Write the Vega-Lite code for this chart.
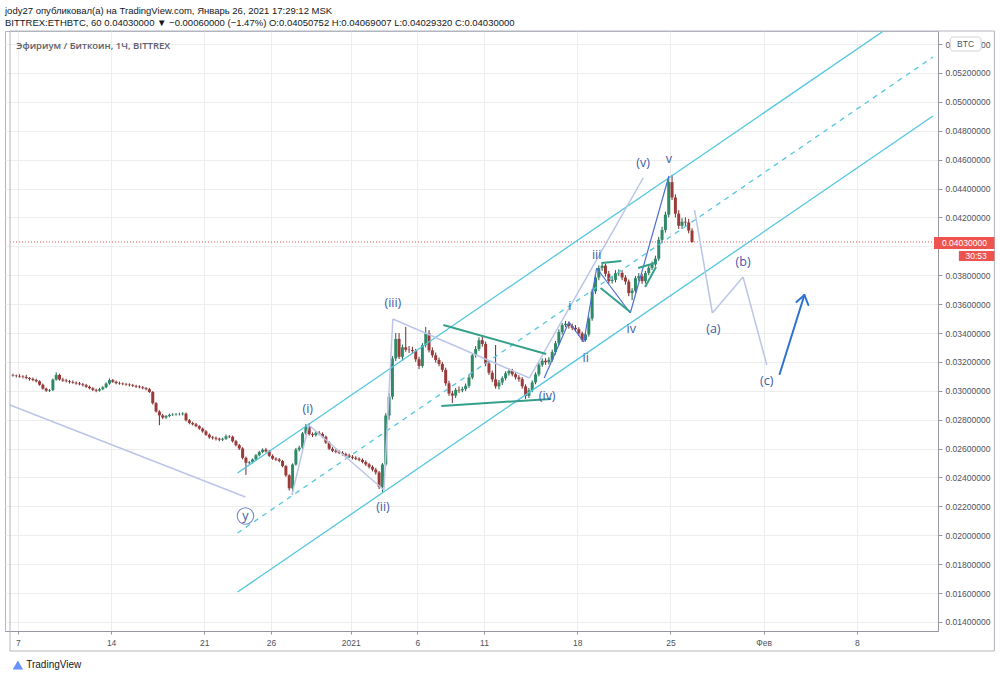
{
"$schema":"https://vega.github.io/schema/vega-lite/v6.json",
"width":933,"height":600,
"autosize":{"type":"none"},
"padding":{"left":5,"top":31,"right":62,"bottom":48},
"background":"white",
"title":{"text":"jody27 опубликовал(а) на TradingView.com, Январь 26, 2021 17:29:12 MSK","subtitle":"BITTREX:ETHBTC, 60  0.04030000 ▼ −0.00060000 (−1.47%)  O:0.04050752  H:0.04069007  L:0.04029320  C:0.04030000","anchor":"start","frame":"group","font":"Liberation Sans","fontSize":9.5,"fontWeight":"normal","color":"#131722","subtitleFont":"Liberation Sans","subtitleFontSize":9.5,"subtitleColor":"#131722","offset":3,"subtitlePadding":3},
"config":{"view":{"stroke":"#b2b5be","strokeWidth":1},
 "axis":{"labelOverlap":false,"labelFlush":false,"grid":true,"gridColor":"#ededed","domainColor":"#9598a1","tickColor":"#9598a1","labelFont":"Liberation Sans","labelFontSize":8.5,"labelColor":"#4c525e","title":null},
 "axisX":{"tickSize":3,"labelPadding":4},
 "axisY":{"tickSize":4,"labelPadding":3}},
"datasets":{
"c":[
{"t":"2020-12-06T15:00","o":0.03108,"h":0.03118,"l":0.03098,"c":0.03105},
{"t":"2020-12-06T21:00","o":0.03105,"h":0.03112,"l":0.03092,"c":0.03102},
{"t":"2020-12-07T03:00","o":0.03102,"h":0.03115,"l":0.0309,"c":0.03099},
{"t":"2020-12-07T09:00","o":0.03099,"h":0.03108,"l":0.03085,"c":0.03096},
{"t":"2020-12-07T15:00","o":0.03096,"h":0.0311,"l":0.0308,"c":0.03089},
{"t":"2020-12-07T21:00","o":0.03089,"h":0.03095,"l":0.0307,"c":0.03082},
{"t":"2020-12-08T03:00","o":0.03082,"h":0.03092,"l":0.03066,"c":0.03075},
{"t":"2020-12-08T09:00","o":0.03075,"h":0.03084,"l":0.03058,"c":0.03066},
{"t":"2020-12-08T15:00","o":0.03066,"h":0.03072,"l":0.03035,"c":0.03042},
{"t":"2020-12-08T21:00","o":0.03042,"h":0.0305,"l":0.03008,"c":0.03015},
{"t":"2020-12-09T03:00","o":0.03015,"h":0.03022,"l":0.02993,"c":0.03001},
{"t":"2020-12-09T09:00","o":0.03001,"h":0.03012,"l":0.02992,"c":0.03005},
{"t":"2020-12-09T15:00","o":0.03005,"h":0.03085,"l":0.02998,"c":0.03077},
{"t":"2020-12-09T21:00","o":0.03077,"h":0.03128,"l":0.0307,"c":0.0311},
{"t":"2020-12-10T03:00","o":0.0311,"h":0.03118,"l":0.0307,"c":0.03078},
{"t":"2020-12-10T09:00","o":0.03078,"h":0.0309,"l":0.03062,"c":0.03071},
{"t":"2020-12-10T15:00","o":0.03071,"h":0.03082,"l":0.03058,"c":0.03066},
{"t":"2020-12-10T21:00","o":0.03066,"h":0.03075,"l":0.0305,"c":0.03061},
{"t":"2020-12-11T03:00","o":0.03061,"h":0.03072,"l":0.03049,"c":0.03056},
{"t":"2020-12-11T09:00","o":0.03056,"h":0.03065,"l":0.03042,"c":0.03051},
{"t":"2020-12-11T15:00","o":0.03051,"h":0.03062,"l":0.03038,"c":0.03045},
{"t":"2020-12-11T21:00","o":0.03045,"h":0.03054,"l":0.0303,"c":0.03039},
{"t":"2020-12-12T03:00","o":0.03039,"h":0.03048,"l":0.0302,"c":0.03028},
{"t":"2020-12-12T09:00","o":0.03028,"h":0.03036,"l":0.0301,"c":0.03018},
{"t":"2020-12-12T15:00","o":0.03018,"h":0.03025,"l":0.02998,"c":0.03007},
{"t":"2020-12-12T21:00","o":0.03007,"h":0.03015,"l":0.0299,"c":0.03001},
{"t":"2020-12-13T03:00","o":0.03001,"h":0.0302,"l":0.02994,"c":0.03011},
{"t":"2020-12-13T09:00","o":0.03011,"h":0.03032,"l":0.03004,"c":0.03024},
{"t":"2020-12-13T15:00","o":0.03024,"h":0.03058,"l":0.03018,"c":0.0305},
{"t":"2020-12-13T21:00","o":0.0305,"h":0.03085,"l":0.03042,"c":0.03074},
{"t":"2020-12-14T03:00","o":0.03074,"h":0.03082,"l":0.03055,"c":0.03062},
{"t":"2020-12-14T09:00","o":0.03062,"h":0.0307,"l":0.03045,"c":0.03053},
{"t":"2020-12-14T15:00","o":0.03053,"h":0.03064,"l":0.03042,"c":0.0305},
{"t":"2020-12-14T21:00","o":0.0305,"h":0.03058,"l":0.03038,"c":0.03046},
{"t":"2020-12-15T03:00","o":0.03046,"h":0.03055,"l":0.03035,"c":0.03043},
{"t":"2020-12-15T09:00","o":0.03043,"h":0.03052,"l":0.0303,"c":0.03039},
{"t":"2020-12-15T15:00","o":0.03039,"h":0.03048,"l":0.03026,"c":0.03034},
{"t":"2020-12-15T21:00","o":0.03034,"h":0.03042,"l":0.0302,"c":0.03029},
{"t":"2020-12-16T03:00","o":0.03029,"h":0.03038,"l":0.03017,"c":0.03024},
{"t":"2020-12-16T09:00","o":0.03024,"h":0.03033,"l":0.0301,"c":0.03018},
{"t":"2020-12-16T15:00","o":0.03018,"h":0.03026,"l":0.03003,"c":0.03011},
{"t":"2020-12-16T21:00","o":0.03011,"h":0.0302,"l":0.02985,"c":0.02992},
{"t":"2020-12-17T03:00","o":0.02992,"h":0.02998,"l":0.02905,"c":0.02914},
{"t":"2020-12-17T09:00","o":0.02914,"h":0.02922,"l":0.0285,"c":0.02857},
{"t":"2020-12-17T15:00","o":0.02857,"h":0.02866,"l":0.02762,"c":0.0283},
{"t":"2020-12-17T21:00","o":0.0283,"h":0.0284,"l":0.02805,"c":0.02815},
{"t":"2020-12-18T03:00","o":0.02815,"h":0.02832,"l":0.02806,"c":0.02825},
{"t":"2020-12-18T09:00","o":0.02825,"h":0.02842,"l":0.02818,"c":0.02833},
{"t":"2020-12-18T15:00","o":0.02833,"h":0.02845,"l":0.02826,"c":0.02835},
{"t":"2020-12-18T21:00","o":0.02835,"h":0.02846,"l":0.02828,"c":0.02837},
{"t":"2020-12-19T03:00","o":0.02837,"h":0.02848,"l":0.02829,"c":0.02838},
{"t":"2020-12-19T09:00","o":0.02838,"h":0.02852,"l":0.0283,"c":0.02842},
{"t":"2020-12-19T15:00","o":0.02842,"h":0.0285,"l":0.02788,"c":0.02796},
{"t":"2020-12-19T21:00","o":0.02796,"h":0.02805,"l":0.02768,"c":0.02777},
{"t":"2020-12-20T03:00","o":0.02777,"h":0.02786,"l":0.0276,"c":0.02768},
{"t":"2020-12-20T09:00","o":0.02768,"h":0.02778,"l":0.02748,"c":0.02755},
{"t":"2020-12-20T15:00","o":0.02755,"h":0.02762,"l":0.0273,"c":0.02738},
{"t":"2020-12-20T21:00","o":0.02738,"h":0.02746,"l":0.0271,"c":0.02719},
{"t":"2020-12-21T03:00","o":0.02719,"h":0.02728,"l":0.02688,"c":0.02696},
{"t":"2020-12-21T09:00","o":0.02696,"h":0.02705,"l":0.02668,"c":0.02678},
{"t":"2020-12-21T15:00","o":0.02678,"h":0.02688,"l":0.02662,"c":0.02673},
{"t":"2020-12-21T21:00","o":0.02673,"h":0.02684,"l":0.02656,"c":0.02668},
{"t":"2020-12-22T03:00","o":0.02668,"h":0.02676,"l":0.0265,"c":0.02662},
{"t":"2020-12-22T09:00","o":0.02662,"h":0.02675,"l":0.02652,"c":0.02668},
{"t":"2020-12-22T15:00","o":0.02668,"h":0.02698,"l":0.0266,"c":0.02685},
{"t":"2020-12-22T21:00","o":0.02685,"h":0.02694,"l":0.02672,"c":0.02682},
{"t":"2020-12-23T03:00","o":0.02682,"h":0.0269,"l":0.02642,"c":0.02651},
{"t":"2020-12-23T09:00","o":0.02651,"h":0.0266,"l":0.02615,"c":0.02624},
{"t":"2020-12-23T15:00","o":0.02624,"h":0.02632,"l":0.0259,"c":0.02601},
{"t":"2020-12-23T21:00","o":0.02601,"h":0.0261,"l":0.02525,"c":0.02536},
{"t":"2020-12-24T03:00","o":0.02536,"h":0.02545,"l":0.02418,"c":0.02502},
{"t":"2020-12-24T09:00","o":0.02502,"h":0.02515,"l":0.0249,"c":0.02506},
{"t":"2020-12-24T15:00","o":0.02506,"h":0.02532,"l":0.02498,"c":0.02525},
{"t":"2020-12-24T21:00","o":0.02525,"h":0.02562,"l":0.02518,"c":0.02554},
{"t":"2020-12-25T03:00","o":0.02554,"h":0.02585,"l":0.02546,"c":0.02576},
{"t":"2020-12-25T09:00","o":0.02576,"h":0.02602,"l":0.02568,"c":0.02592},
{"t":"2020-12-25T15:00","o":0.02592,"h":0.02605,"l":0.02572,"c":0.02581},
{"t":"2020-12-25T21:00","o":0.02581,"h":0.0259,"l":0.02542,"c":0.0255},
{"t":"2020-12-26T03:00","o":0.0255,"h":0.0256,"l":0.02522,"c":0.02531},
{"t":"2020-12-26T09:00","o":0.02531,"h":0.0254,"l":0.02515,"c":0.02524},
{"t":"2020-12-26T15:00","o":0.02524,"h":0.02535,"l":0.02505,"c":0.02514},
{"t":"2020-12-26T21:00","o":0.02514,"h":0.02522,"l":0.0247,"c":0.02479},
{"t":"2020-12-27T03:00","o":0.02479,"h":0.02486,"l":0.02405,"c":0.02415},
{"t":"2020-12-27T09:00","o":0.02415,"h":0.02422,"l":0.0231,"c":0.02325},
{"t":"2020-12-27T15:00","o":0.02325,"h":0.02498,"l":0.02279,"c":0.0249},
{"t":"2020-12-27T21:00","o":0.0249,"h":0.02605,"l":0.02482,"c":0.02593},
{"t":"2020-12-28T03:00","o":0.02593,"h":0.0262,"l":0.0258,"c":0.02607},
{"t":"2020-12-28T09:00","o":0.02607,"h":0.02715,"l":0.02598,"c":0.02705},
{"t":"2020-12-28T15:00","o":0.02705,"h":0.0277,"l":0.02695,"c":0.02752},
{"t":"2020-12-28T21:00","o":0.02752,"h":0.02777,"l":0.0269,"c":0.027},
{"t":"2020-12-29T03:00","o":0.027,"h":0.02712,"l":0.0268,"c":0.02693},
{"t":"2020-12-29T09:00","o":0.02693,"h":0.0272,"l":0.02684,"c":0.02709},
{"t":"2020-12-29T15:00","o":0.02709,"h":0.02722,"l":0.02692,"c":0.02702},
{"t":"2020-12-29T21:00","o":0.02702,"h":0.02712,"l":0.02672,"c":0.02682},
{"t":"2020-12-30T03:00","o":0.02682,"h":0.0269,"l":0.02632,"c":0.02642},
{"t":"2020-12-30T09:00","o":0.02642,"h":0.0265,"l":0.0259,"c":0.02599},
{"t":"2020-12-30T15:00","o":0.02599,"h":0.0261,"l":0.02575,"c":0.02585},
{"t":"2020-12-30T21:00","o":0.02585,"h":0.02596,"l":0.02568,"c":0.02578},
{"t":"2020-12-31T03:00","o":0.02578,"h":0.0259,"l":0.02562,"c":0.02571},
{"t":"2020-12-31T09:00","o":0.02571,"h":0.02582,"l":0.02552,"c":0.02562},
{"t":"2020-12-31T15:00","o":0.02562,"h":0.02572,"l":0.02542,"c":0.02552},
{"t":"2020-12-31T21:00","o":0.02552,"h":0.02565,"l":0.02535,"c":0.02543},
{"t":"2021-01-01T03:00","o":0.02543,"h":0.02555,"l":0.02525,"c":0.02536},
{"t":"2021-01-01T09:00","o":0.02536,"h":0.02548,"l":0.0252,"c":0.02529},
{"t":"2021-01-01T15:00","o":0.02529,"h":0.0254,"l":0.02512,"c":0.02522},
{"t":"2021-01-01T21:00","o":0.02522,"h":0.02532,"l":0.02498,"c":0.02507},
{"t":"2021-01-02T03:00","o":0.02507,"h":0.02518,"l":0.0248,"c":0.02491},
{"t":"2021-01-02T09:00","o":0.02491,"h":0.025,"l":0.02462,"c":0.02474},
{"t":"2021-01-02T15:00","o":0.02474,"h":0.02485,"l":0.02442,"c":0.02455},
{"t":"2021-01-02T21:00","o":0.02455,"h":0.02466,"l":0.0242,"c":0.02435},
{"t":"2021-01-03T03:00","o":0.02435,"h":0.02445,"l":0.0232,"c":0.02335},
{"t":"2021-01-03T09:00","o":0.02335,"h":0.025,"l":0.023,"c":0.0249},
{"t":"2021-01-03T15:00","o":0.0249,"h":0.02845,"l":0.02478,"c":0.02829},
{"t":"2021-01-03T21:00","o":0.02829,"h":0.02985,"l":0.028,"c":0.02959},
{"t":"2021-01-04T03:00","o":0.02959,"h":0.0324,"l":0.0294,"c":0.03224},
{"t":"2021-01-04T09:00","o":0.03224,"h":0.034,"l":0.03205,"c":0.03359},
{"t":"2021-01-04T15:00","o":0.03359,"h":0.034,"l":0.0322,"c":0.03235},
{"t":"2021-01-04T21:00","o":0.03235,"h":0.0332,"l":0.0321,"c":0.03301},
{"t":"2021-01-05T03:00","o":0.03301,"h":0.03442,"l":0.0327,"c":0.03284},
{"t":"2021-01-05T09:00","o":0.03284,"h":0.0331,"l":0.03262,"c":0.03282},
{"t":"2021-01-05T15:00","o":0.03282,"h":0.03305,"l":0.03255,"c":0.03275},
{"t":"2021-01-05T21:00","o":0.03275,"h":0.0329,"l":0.032,"c":0.03218},
{"t":"2021-01-06T03:00","o":0.03218,"h":0.03235,"l":0.0315,"c":0.03172},
{"t":"2021-01-06T09:00","o":0.03172,"h":0.0333,"l":0.0316,"c":0.03316},
{"t":"2021-01-06T15:00","o":0.03316,"h":0.03442,"l":0.033,"c":0.03397},
{"t":"2021-01-06T21:00","o":0.03397,"h":0.0342,"l":0.03265,"c":0.0328},
{"t":"2021-01-07T03:00","o":0.0328,"h":0.033,"l":0.0323,"c":0.03246},
{"t":"2021-01-07T09:00","o":0.03246,"h":0.03265,"l":0.03195,"c":0.03213},
{"t":"2021-01-07T15:00","o":0.03213,"h":0.0323,"l":0.0317,"c":0.03186},
{"t":"2021-01-07T21:00","o":0.03186,"h":0.032,"l":0.0313,"c":0.03145},
{"t":"2021-01-08T03:00","o":0.03145,"h":0.0316,"l":0.03035,"c":0.03052},
{"t":"2021-01-08T09:00","o":0.03052,"h":0.0307,"l":0.02965,"c":0.02981},
{"t":"2021-01-08T15:00","o":0.02981,"h":0.03,"l":0.02915,"c":0.02967},
{"t":"2021-01-08T21:00","o":0.02967,"h":0.0302,"l":0.0295,"c":0.03006},
{"t":"2021-01-09T03:00","o":0.03006,"h":0.0303,"l":0.02985,"c":0.03003},
{"t":"2021-01-09T09:00","o":0.03003,"h":0.03028,"l":0.0299,"c":0.03012},
{"t":"2021-01-09T15:00","o":0.03012,"h":0.0305,"l":0.02998,"c":0.03035},
{"t":"2021-01-09T21:00","o":0.03035,"h":0.0311,"l":0.0302,"c":0.03092},
{"t":"2021-01-10T03:00","o":0.03092,"h":0.0326,"l":0.0308,"c":0.03246},
{"t":"2021-01-10T09:00","o":0.03246,"h":0.0331,"l":0.0323,"c":0.03289},
{"t":"2021-01-10T15:00","o":0.03289,"h":0.0337,"l":0.03275,"c":0.0335},
{"t":"2021-01-10T21:00","o":0.0335,"h":0.03386,"l":0.03305,"c":0.03324},
{"t":"2021-01-11T03:00","o":0.03324,"h":0.0334,"l":0.0317,"c":0.03189},
{"t":"2021-01-11T09:00","o":0.03189,"h":0.03205,"l":0.0311,"c":0.03125},
{"t":"2021-01-11T15:00","o":0.03125,"h":0.0314,"l":0.0306,"c":0.03079},
{"t":"2021-01-11T21:00","o":0.03079,"h":0.03317,"l":0.03015,"c":0.03031},
{"t":"2021-01-12T03:00","o":0.03031,"h":0.03075,"l":0.0301,"c":0.03058},
{"t":"2021-01-12T09:00","o":0.03058,"h":0.031,"l":0.0304,"c":0.03087},
{"t":"2021-01-12T15:00","o":0.03087,"h":0.03135,"l":0.03072,"c":0.03121},
{"t":"2021-01-12T21:00","o":0.03121,"h":0.03155,"l":0.03105,"c":0.03137},
{"t":"2021-01-13T03:00","o":0.03137,"h":0.03152,"l":0.031,"c":0.03114},
{"t":"2021-01-13T09:00","o":0.03114,"h":0.0313,"l":0.03078,"c":0.03093},
{"t":"2021-01-13T15:00","o":0.03093,"h":0.03108,"l":0.03062,"c":0.03081},
{"t":"2021-01-13T21:00","o":0.03081,"h":0.03095,"l":0.03015,"c":0.03031},
{"t":"2021-01-14T03:00","o":0.03031,"h":0.03045,"l":0.02943,"c":0.02965},
{"t":"2021-01-14T09:00","o":0.02965,"h":0.0302,"l":0.0295,"c":0.03004},
{"t":"2021-01-14T15:00","o":0.03004,"h":0.03072,"l":0.0299,"c":0.03058},
{"t":"2021-01-14T21:00","o":0.03058,"h":0.03128,"l":0.03045,"c":0.03114},
{"t":"2021-01-15T03:00","o":0.03114,"h":0.03195,"l":0.031,"c":0.0318},
{"t":"2021-01-15T09:00","o":0.0318,"h":0.03225,"l":0.03165,"c":0.03208},
{"t":"2021-01-15T15:00","o":0.03208,"h":0.03225,"l":0.0318,"c":0.03198},
{"t":"2021-01-15T21:00","o":0.03198,"h":0.03232,"l":0.03182,"c":0.03215},
{"t":"2021-01-16T03:00","o":0.03215,"h":0.03285,"l":0.032,"c":0.03268},
{"t":"2021-01-16T09:00","o":0.03268,"h":0.03345,"l":0.0325,"c":0.03329},
{"t":"2021-01-16T15:00","o":0.03329,"h":0.03425,"l":0.03315,"c":0.03407},
{"t":"2021-01-16T21:00","o":0.03407,"h":0.0347,"l":0.0339,"c":0.03455},
{"t":"2021-01-17T03:00","o":0.03455,"h":0.03483,"l":0.0344,"c":0.03464},
{"t":"2021-01-17T09:00","o":0.03464,"h":0.0348,"l":0.0343,"c":0.03448},
{"t":"2021-01-17T15:00","o":0.03448,"h":0.03465,"l":0.0342,"c":0.03436},
{"t":"2021-01-17T21:00","o":0.03436,"h":0.03455,"l":0.0341,"c":0.03426},
{"t":"2021-01-18T03:00","o":0.03426,"h":0.0344,"l":0.0338,"c":0.03397},
{"t":"2021-01-18T09:00","o":0.03397,"h":0.0341,"l":0.03338,"c":0.03352},
{"t":"2021-01-18T15:00","o":0.03352,"h":0.03405,"l":0.0334,"c":0.0339},
{"t":"2021-01-18T21:00","o":0.0339,"h":0.03515,"l":0.03375,"c":0.035},
{"t":"2021-01-19T03:00","o":0.035,"h":0.03705,"l":0.03485,"c":0.03688},
{"t":"2021-01-19T09:00","o":0.03688,"h":0.038,"l":0.0367,"c":0.03784},
{"t":"2021-01-19T15:00","o":0.03784,"h":0.03868,"l":0.03765,"c":0.03849},
{"t":"2021-01-19T21:00","o":0.03849,"h":0.03891,"l":0.0383,"c":0.03866},
{"t":"2021-01-20T03:00","o":0.03866,"h":0.0388,"l":0.0379,"c":0.0381},
{"t":"2021-01-20T09:00","o":0.0381,"h":0.0383,"l":0.0374,"c":0.0376},
{"t":"2021-01-20T15:00","o":0.0376,"h":0.0379,"l":0.03742,"c":0.03768},
{"t":"2021-01-20T21:00","o":0.03768,"h":0.03835,"l":0.0375,"c":0.03814},
{"t":"2021-01-21T03:00","o":0.03814,"h":0.0384,"l":0.03795,"c":0.03816},
{"t":"2021-01-21T09:00","o":0.03816,"h":0.03835,"l":0.03765,"c":0.03784},
{"t":"2021-01-21T15:00","o":0.03784,"h":0.038,"l":0.03735,"c":0.03756},
{"t":"2021-01-21T21:00","o":0.03756,"h":0.0377,"l":0.03655,"c":0.03676},
{"t":"2021-01-22T03:00","o":0.03676,"h":0.0371,"l":0.03628,"c":0.03693},
{"t":"2021-01-22T09:00","o":0.03693,"h":0.03795,"l":0.0368,"c":0.03779},
{"t":"2021-01-22T15:00","o":0.03779,"h":0.03815,"l":0.0376,"c":0.03793},
{"t":"2021-01-22T21:00","o":0.03793,"h":0.0381,"l":0.0374,"c":0.03759},
{"t":"2021-01-23T03:00","o":0.03759,"h":0.0383,"l":0.03742,"c":0.03815},
{"t":"2021-01-23T09:00","o":0.03815,"h":0.0387,"l":0.038,"c":0.03851},
{"t":"2021-01-23T15:00","o":0.03851,"h":0.03895,"l":0.03835,"c":0.03875},
{"t":"2021-01-23T21:00","o":0.03875,"h":0.03935,"l":0.0386,"c":0.03914},
{"t":"2021-01-24T03:00","o":0.03914,"h":0.04065,"l":0.039,"c":0.04045},
{"t":"2021-01-24T09:00","o":0.04045,"h":0.04135,"l":0.04025,"c":0.04113},
{"t":"2021-01-24T15:00","o":0.04113,"h":0.0424,"l":0.04095,"c":0.04219},
{"t":"2021-01-24T21:00","o":0.04219,"h":0.0447,"l":0.042,"c":0.04444},
{"t":"2021-01-25T03:00","o":0.04444,"h":0.04494,"l":0.0432,"c":0.04338},
{"t":"2021-01-25T09:00","o":0.04338,"h":0.0436,"l":0.042,"c":0.04226},
{"t":"2021-01-25T15:00","o":0.04226,"h":0.0425,"l":0.0412,"c":0.04142},
{"t":"2021-01-25T21:00","o":0.04142,"h":0.04195,"l":0.0412,"c":0.0417},
{"t":"2021-01-26T03:00","o":0.0417,"h":0.042,"l":0.0414,"c":0.04165},
{"t":"2021-01-26T09:00","o":0.04165,"h":0.0419,"l":0.0409,"c":0.04109},
{"t":"2021-01-26T15:00","o":0.04109,"h":0.04125,"l":0.04025,"c":0.0403}
],
"seg":[
{"g":"last","t":"2020-12-06T09:44","p":0.0403,"t2":"2021-02-13T17:20","p2":0.0403},
{"g":"chan","t":"2020-12-23T11:50","p":0.024311,"t2":"2021-02-13T17:20","p2":0.057246},
{"g":"chan","t":"2020-12-23T11:50","p":0.016076,"t2":"2021-02-13T17:20","p2":0.049017},
{"g":"chand","t":"2020-12-23T11:50","p":0.020159,"t2":"2021-02-13T17:20","p2":0.0531},
{"g":"ylin","t":"2020-12-06T09:44","p":0.029017,"t2":"2020-12-24T02:07","p2":0.022651},
{"g":"lav","t":"2020-12-27T13:54","p":0.022789,"t2":"2020-12-28T20:13","p2":0.027633},
{"g":"lav","t":"2020-12-28T20:13","p":0.027633,"t2":"2021-01-03T11:44","p2":0.023135},
{"g":"lav","t":"2021-01-03T11:44","p":0.023135,"t2":"2021-01-04T03:46","p2":0.034969},
{"g":"lav","t":"2021-01-04T03:46","p":0.034969,"t2":"2021-01-14T09:50","p2":0.030886},
{"g":"lav","t":"2021-01-14T09:50","p":0.030886,"t2":"2021-01-22T22:54","p2":0.044727},
{"g":"lav","t":"2021-01-26T19:36","p":0.042512,"t2":"2021-01-28T03:43","p2":0.035384},
{"g":"lav","t":"2021-01-28T03:43","p":0.035384,"t2":"2021-01-30T10:59","p2":0.037875},
{"g":"lav","t":"2021-01-30T10:59","p":0.037875,"t2":"2021-02-01T05:47","p2":0.031785},
{"g":"blue","t":"2021-01-15T12:36","p":0.030886,"t2":"2021-01-17T09:10","p2":0.034761},
{"g":"blue","t":"2021-01-17T09:10","p":0.034761,"t2":"2021-01-18T11:54","p2":0.033377},
{"g":"blue","t":"2021-01-18T11:54","p":0.033377,"t2":"2021-01-19T11:05","p2":0.038498},
{"g":"blue","t":"2021-01-19T11:05","p":0.038498,"t2":"2021-01-21T23:43","p2":0.035384},
{"g":"blue","t":"2021-01-21T23:43","p":0.035384,"t2":"2021-01-24T21:16","p2":0.044865},
{"g":"teal","t":"2021-01-07T22:44","p":0.034554,"t2":"2021-01-15T16:09","p2":0.032547},
{"g":"teal","t":"2021-01-07T19:09","p":0.028948,"t2":"2021-01-16T01:05","p2":0.029433},
{"g":"teal","t":"2021-01-19T20:01","p":0.038844,"t2":"2021-01-21T07:39","p2":0.038983},
{"g":"teal","t":"2021-01-19T18:13","p":0.037114,"t2":"2021-01-21T23:43","p2":0.035453},
{"g":"teal","t":"2021-01-22T13:58","p":0.038498,"t2":"2021-01-23T20:17","p2":0.038844},
{"g":"teal","t":"2021-01-23T02:27","p":0.037183,"t2":"2021-01-23T22:05","p2":0.038567},
{"g":"arrow","t":"2021-02-02T04:58","p":0.031163,"t2":"2021-02-04T01:32","p2":0.03663},
{"g":"arrow","t":"2021-02-03T11:15","p":0.036145,"t2":"2021-02-04T01:32","p2":0.03663},
{"g":"arrow","t":"2021-02-04T08:40","p":0.035938,"t2":"2021-02-04T01:32","p2":0.03663}
],
"lab":[
{"s":"(i)","t":"2020-12-28T18:26","p":0.028741},
{"s":"(ii)","t":"2021-01-03T09:58","p":0.021958},
{"s":"(iii)","t":"2021-01-04T03:48","p":0.036076},
{"s":"(iv)","t":"2021-01-15T17:56","p":0.02964},
{"s":"(v)","t":"2021-01-22T22:54","p":0.045765},
{"s":"i","t":"2021-01-17T10:57","p":0.035868},
{"s":"ii","t":"2021-01-18T15:29","p":0.03227},
{"s":"iii","t":"2021-01-19T11:05","p":0.039398},
{"s":"iv","t":"2021-01-22T01:29","p":0.034277},
{"s":"v","t":"2021-01-24T21:16","p":0.046042},
{"s":"(a)","t":"2021-01-28T05:30","p":0.034277},
{"s":"(b)","t":"2021-01-30T10:59","p":0.038914},
{"s":"(c)","t":"2021-02-01T05:47","p":0.030678},
{"s":"y","t":"2020-12-24T02:07","p":0.021336}
],
"circ":[{"t":"2020-12-24T02:07","p":0.021336}],
"ttl":[{"s":"Эфириум / Биткоин, 1Ч, BITTREX","t":"2020-12-06T21:00","p":0.053862}],
"frame":[{"t":"2020-12-06T09:44","t2":"2021-02-18T08:00","p":0.011993,"p2":0.0549}],
"tag":[{"t":"2021-02-13T19:08","t2":"2021-02-18T08:00","p":0.039813,"p2":0.040644},{"t":"2021-02-15T16:00","t2":"2021-02-18T08:00","p":0.038983,"p2":0.039675}],
"tagtxt":[{"s":"0.04030000","t":"2021-02-16T02:00","p":0.04023},{"s":"30:53","t":"2021-02-16T23:00","p":0.039329}],
"btc":[{"t":"2021-02-15T00:30","t2":"2021-02-17T08:00","p":0.053516,"p2":0.054484}],
"btctxt":[{"s":"BTC","t":"2021-02-16T04:00","p":0.054}],
"logo":[{"t":"2020-12-07T00:00","p":0.011024}],
"logotxt":[{"s":"TradingView","t":"2020-12-07T15:00","p":0.011024}]
},
"encoding":{
 "x":{"field":"t","type":"temporal","scale":{"domain":[{"year":2020,"month":12,"date":6,"hours":9,"minutes":44},{"year":2021,"month":2,"date":13,"hours":17,"minutes":20}]},
   "axis":{"values":[{"year":2020,"month":12,"date":7},{"year":2020,"month":12,"date":14},{"year":2020,"month":12,"date":21},{"year":2020,"month":12,"date":26},{"year":2021,"month":1,"date":1},{"year":2021,"month":1,"date":6},{"year":2021,"month":1,"date":11},{"year":2021,"month":1,"date":18},{"year":2021,"month":1,"date":25},{"year":2021,"month":2,"date":1},{"year":2021,"month":2,"date":8}],
    "labelExpr":"month(datum.value)==0 && date(datum.value)==1 ? '2021' : (month(datum.value)==1 && date(datum.value)==1 ? 'Фев' : '' + date(datum.value))","title":null}},
 "y":{"field":"p","type":"quantitative","scale":{"domain":[0.013377,0.0549],"nice":false,"zero":false},
   "axis":{"orient":"right","values":[0.014,0.016,0.018,0.02,0.022,0.024,0.026,0.028,0.03,0.032,0.034,0.036,0.038,0.04,0.042,0.044,0.046,0.048,0.05,0.052,0.054],"format":".8f","labelExpr":"abs(datum.value-0.04)<0.0001 ? '' : datum.label","labelOverlap":false,"title":null}}
},
"layer":[
{"data":{"name":"seg"},"transform":[{"filter":"datum.g=='last'"}],"mark":{"type":"rule","color":"#ef5350","strokeDash":[1,2],"strokeWidth":1},
 "encoding":{"x2":{"field":"t2"},"y2":{"field":"p2"}}},
{"data":{"name":"c"},"mark":{"type":"rule","strokeWidth":1},
 "encoding":{
  "y":{"field":"l","type":"quantitative","scale":{"domain":[0.013377,0.0549],"nice":false,"zero":false},
   "axis":{"orient":"right","values":[0.014,0.016,0.018,0.02,0.022,0.024,0.026,0.028,0.03,0.032,0.034,0.036,0.038,0.04,0.042,0.044,0.046,0.048,0.05,0.052,0.054],"format":".8f","labelExpr":"abs(datum.value-0.04)<0.0001 ? '' : datum.label","labelOverlap":false,"title":null}},
  "y2":{"field":"h"},
  "color":{"condition":{"test":"datum.c >= datum.o","value":"#1f5e48"},"value":"#6e2b2b"}}},
{"data":{"name":"c"},"mark":{"type":"bar","size":3},
 "encoding":{
  "y":{"field":"o","type":"quantitative","scale":{"domain":[0.013377,0.0549],"nice":false,"zero":false},
   "axis":{"orient":"right","values":[0.014,0.016,0.018,0.02,0.022,0.024,0.026,0.028,0.03,0.032,0.034,0.036,0.038,0.04,0.042,0.044,0.046,0.048,0.05,0.052,0.054],"format":".8f","labelExpr":"abs(datum.value-0.04)<0.0001 ? '' : datum.label","labelOverlap":false,"title":null}},
  "y2":{"field":"c"},
  "color":{"condition":{"test":"datum.c >= datum.o","value":"#2f8a67"},"value":"#9c3a3a"}}},
{"data":{"name":"seg"},"transform":[{"filter":"datum.g=='chan'"}],"mark":{"type":"rule","color":"#52c7df","strokeWidth":1.3,"clip":true},
 "encoding":{"x2":{"field":"t2"},"y2":{"field":"p2"}}},
{"data":{"name":"seg"},"transform":[{"filter":"datum.g=='chand'"}],"mark":{"type":"rule","color":"#52c7df","strokeWidth":1.3,"strokeDash":[5,5],"clip":true},
 "encoding":{"x2":{"field":"t2"},"y2":{"field":"p2"}}},
{"data":{"name":"seg"},"transform":[{"filter":"datum.g=='ylin' || datum.g=='lav'"}],"mark":{"type":"rule","color":"#bcc5e8","strokeWidth":1.5,"clip":true},
 "encoding":{"x2":{"field":"t2"},"y2":{"field":"p2"}}},
{"data":{"name":"seg"},"transform":[{"filter":"datum.g=='blue'"}],"mark":{"type":"rule","color":"#4d6fd0","strokeWidth":1.2,"clip":true},
 "encoding":{"x2":{"field":"t2"},"y2":{"field":"p2"}}},
{"data":{"name":"seg"},"transform":[{"filter":"datum.g=='teal'"}],"mark":{"type":"rule","color":"#34a08a","strokeWidth":2,"clip":true},
 "encoding":{"x2":{"field":"t2"},"y2":{"field":"p2"}}},
{"data":{"name":"seg"},"transform":[{"filter":"datum.g=='arrow'"}],"mark":{"type":"rule","color":"#2d72d2","strokeWidth":2,"strokeCap":"round","clip":true},
 "encoding":{"x2":{"field":"t2"},"y2":{"field":"p2"}}},
{"data":{"name":"lab"},"mark":{"type":"text","font":"Open Sans","fontSize":12.5,"color":"#3d5ca8","align":"center","baseline":"middle"},
 "encoding":{"text":{"field":"s"}}},
{"data":{"name":"circ"},"mark":{"type":"point","shape":"circle","size":270,"filled":false,"color":"#3d5ca8","strokeWidth":1.1}},
{"data":{"name":"ttl"},"mark":{"type":"text","font":"Open Sans","fontSize":9.5,"fontWeight":600,"color":"#5d606b","align":"left","baseline":"middle"},
 "encoding":{"text":{"field":"s"}}},
{"data":{"name":"frame"},"mark":{"type":"rect","fill":null,"fillOpacity":0,"stroke":"#b2b5be","strokeWidth":1},
 "encoding":{"x2":{"field":"t2"},"y2":{"field":"p2"}}},
{"data":{"name":"tag"},"mark":{"type":"rect","color":"#ef5350"},
 "encoding":{"x2":{"field":"t2"},"y2":{"field":"p2"}}},
{"data":{"name":"tagtxt"},"mark":{"type":"text","font":"Liberation Sans","fontSize":8.5,"color":"white","align":"center","baseline":"middle"},
 "encoding":{"text":{"field":"s"}}},
{"data":{"name":"btc"},"mark":{"type":"rect","fill":"white","stroke":"#d1d4dc","strokeWidth":1,"cornerRadius":3},
 "encoding":{"x2":{"field":"t2"},"y2":{"field":"p2"}}},
{"data":{"name":"btctxt"},"mark":{"type":"text","font":"Liberation Sans","fontSize":8.5,"color":"#4c525e","align":"center","baseline":"middle"},
 "encoding":{"text":{"field":"s"}}},
{"data":{"name":"logo"},"mark":{"type":"point","shape":"triangle-up","size":110,"filled":true,"color":"#2962ff"}},
{"data":{"name":"logotxt"},"mark":{"type":"text","font":"Liberation Sans","fontSize":10,"color":"#131722","align":"left","baseline":"middle"},
 "encoding":{"text":{"field":"s"}}}
]
}
